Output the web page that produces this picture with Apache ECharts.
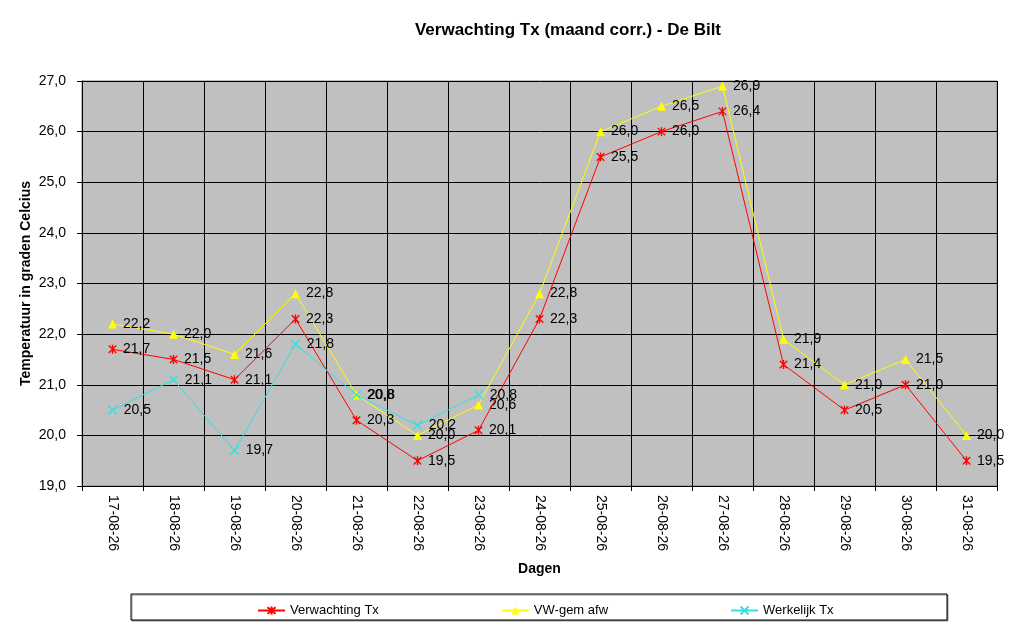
<!DOCTYPE html>
<html><head><meta charset="utf-8">
<script src="https://cdn.jsdelivr.net/npm/echarts@6/dist/echarts.min.js"></script>
<style>html,body{margin:0;padding:0;background:#fff}#c{width:1024px;height:629px}</style>
</head><body><div id="c"></div>
<script>
var categories = ['17-08-26','18-08-26','19-08-26','20-08-26','21-08-26','22-08-26','23-08-26','24-08-26','25-08-26','26-08-26','27-08-26','28-08-26','29-08-26','30-08-26','31-08-26'];
var verwachting = [21.7,21.5,21.1,22.3,20.3,19.5,20.1,22.3,25.5,26.0,26.4,21.4,20.5,21.0,19.5];
var vwGem = [22.2,22.0,21.6,22.8,20.8,20.0,20.6,22.8,26.0,26.5,26.9,21.9,21.0,21.5,20.0];
var werkelijk = [20.5,21.1,19.7,21.8,20.8,20.2,20.8,null,null,null,null,null,null,null,null];
var yTicks = {min:19, max:27, interval:1};

var FONT = 'Liberation Sans, Arial, sans-serif';
var starPath = 'path://M0,0L10,10M10,0L0,10M5,-1L5,11';
var xPath = 'path://M0,0L10,10M10,0L0,10';
function fmt(v){ return v.toFixed(1).replace('.', ','); }
var lbl = {show:true, position:'right', distance:6, color:'#000', fontFamily:FONT, fontSize:14,
  formatter:function(p){ return fmt(p.value); }};

var chart = echarts.init(document.getElementById('c'));
chart.setOption({
  animation:false,
  textStyle:{fontFamily:FONT},
  title:{text:'Verwachting Tx (maand corr.) - De Bilt', left:563, textAlign:'center', top:17,
    textStyle:{fontFamily:FONT, fontSize:17, fontWeight:'bold', color:'#000'}},
  graphic:[{type:'rect', shape:{x:131,y:594,width:816,height:26},
    style:{fill:'#fff', stroke:'#000', lineWidth:1, shadowColor:'rgba(0,0,0,0.4)', shadowOffsetX:1, shadowOffsetY:1}, z:-1}],
  legend:{left:252, top:599, itemWidth:27, itemHeight:10, itemGap:122,
    textStyle:{fontFamily:FONT, fontSize:13, color:'#000'},
    data:['Verwachting Tx','VW-gem afw','Werkelijk Tx']},
  grid:{left:82, right:27, top:81, bottom:143, show:true, backgroundColor:'#C0C0C0', borderColor:'#808080', borderWidth:1},
  xAxis:{type:'category', data:categories, boundaryGap:true,
    name:'Dagen', nameLocation:'middle', nameGap:76,
    nameTextStyle:{fontFamily:FONT, fontSize:14, fontWeight:'bold', color:'#000'},
    axisLine:{lineStyle:{color:'#000'}},
    axisTick:{show:true, interval:0, length:5, lineStyle:{color:'#000'}},
    splitLine:{show:true, interval:0, lineStyle:{color:'#000', width:1}},
    axisLabel:{rotate:-90, interval:0, color:'#000', fontFamily:FONT, fontSize:14, margin:9}},
  yAxis:{type:'value', min:yTicks.min, max:yTicks.max, interval:yTicks.interval,
    name:'Temperatuur in graden Celcius', nameLocation:'middle', nameGap:49, nameRotate:90, nameMoveOverlap:false,
    nameTextStyle:{fontFamily:FONT, fontSize:14, fontWeight:'bold', color:'#000'},
    axisLine:{show:true, lineStyle:{color:'#000'}},
    axisTick:{show:true, length:5, lineStyle:{color:'#000'}},
    splitLine:{show:true, lineStyle:{color:'#000', width:1}},
    axisLabel:{color:'#000', fontFamily:FONT, fontSize:14, margin:16, formatter:function(v){return fmt(v);}}},
  series:[
    {name:'Verwachting Tx', type:'line', data:verwachting, symbol:starPath, symbolSize:9, symbolKeepAspect:true,
      lineStyle:{color:'#FF0000', width:1}, color:'#FF0000',
      itemStyle:{color:'transparent', borderColor:'#FF0000', borderWidth:1.4}, label:lbl, z:3},
    {name:'VW-gem afw', type:'line', data:vwGem, symbol:'triangle', symbolSize:9,
      lineStyle:{color:'#FFFF00', width:1}, color:'#FFFF00',
      itemStyle:{color:'#FFFF00', borderWidth:0}, label:lbl, z:2},
    {name:'Werkelijk Tx', type:'line', data:werkelijk, symbol:xPath, symbolSize:9, symbolKeepAspect:true,
      lineStyle:{color:'#33E0E0', width:1}, color:'#33E0E0',
      itemStyle:{color:'transparent', borderColor:'#33E0E0', borderWidth:1.4}, label:lbl, z:4}
  ]
});
</script></body></html>
